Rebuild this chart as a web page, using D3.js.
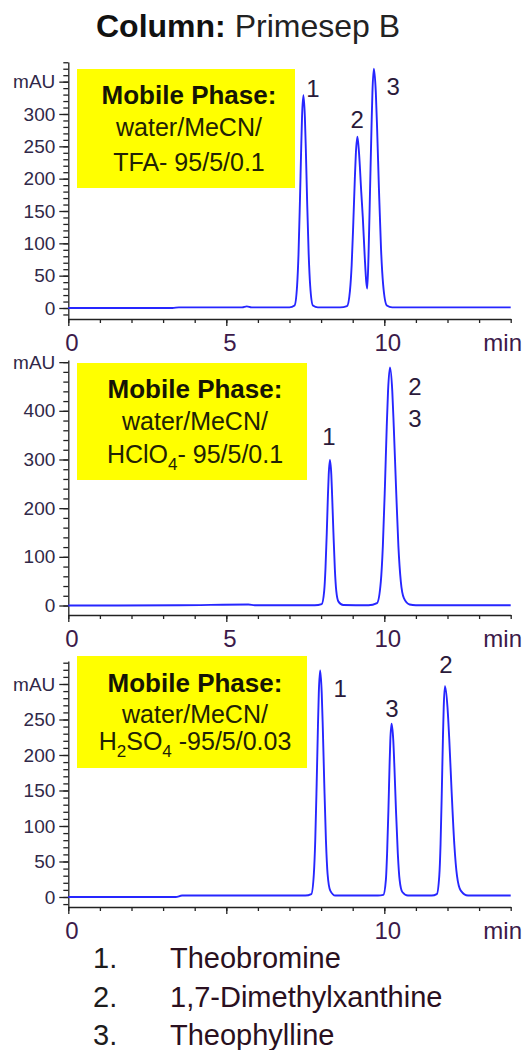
<!DOCTYPE html>
<meta charset="utf-8">
<style>
  body { margin: 0; background: #fff; }
  text { font-family: "Liberation Sans", Arial, sans-serif; }
</style>
<svg id="mainsvg" width="523" height="1050"></svg>
<script src="https://d3js.org/d3.v7.min.js"></script>
<script>

// chromatogram traces, [time (min), signal (mAU)]
const traceTFA = [[0,0],[3.3,0],[3.5,1],[5.5,1],[5.65,2.5],[5.8,1],[7.0,1],[7.16,4],[7.24,34],[7.285,83],[7.33,165],[7.37,247],[7.397,296],[7.44,329],[7.486,296],[7.516,247],[7.558,165],[7.607,83],[7.655,34],[7.74,4],[7.9,1],[8.6,1],[8.82,3],[8.914,27],[8.967,66],[9.02,133],[9.067,199],[9.1,239],[9.15,265],[9.2,240],[9.27,180],[9.32,140],[9.38,80],[9.43,40],[9.46,30],[9.5,80],[9.55,185],[9.594,277],[9.624,333],[9.67,370],[9.732,333],[9.773,277],[9.83,185],[9.896,92],[9.962,37],[10.08,4],[10.25,1],[14,1]];
const traceHClO4 = [[0,0],[3.5,0.5],[5.7,2],[5.9,0.5],[7.8,0.5],[8.02,3],[8.098,30],[8.138,75],[8.18,150],[8.215,224],[8.241,269],[8.28,299],[8.323,269],[8.35,224],[8.39,150],[8.435,75],[8.48,30],[8.55,8],[8.7,1],[9.5,0.5],[9.77,5],[9.89,49],[9.954,122],[10.02,245],[10.077,367],[10.118,440],[10.18,489],[10.253,440],[10.3,367],[10.37,245],[10.446,122],[10.523,49],[10.62,15],[10.8,2],[11.0,0.5],[14,0.5]];
const traceH2SO4 = [[0,0],[3.4,0],[3.6,2],[4.5,2],[7.5,2],[7.69,4],[7.77,32],[7.815,80],[7.86,160],[7.9,240],[7.927,287],[7.97,319],[8.02,287],[8.053,240],[8.1,160],[8.153,80],[8.206,32],[8.29,9],[8.45,2],[9.8,2],[9.97,3],[10.05,24],[10.088,61],[10.13,122],[10.165,183],[10.19,220],[10.23,244],[10.285,220],[10.32,183],[10.37,122],[10.428,61],[10.485,24],[10.57,7],[10.75,2],[11.5,2],[11.66,4],[11.74,30],[11.78,74],[11.82,149],[11.855,223],[11.88,267],[11.92,297],[12.0,267],[12.055,223],[12.13,149],[12.216,74],[12.3,30],[12.42,9],[12.65,2],[14,2]];

// peak numbers: [label, time, mAU]
const peaksTFA = [["1",7.74,340],["2",9.14,291],["3",10.28,342]];
const peaksHClO4 = [["1",8.25,346],["2",10.97,449],["3",10.97,385]];
const peaksH2SO4 = [["1",8.6,293],["3",10.24,266],["2",11.95,327]];

// mobile phase text, subscripts flagged
const phaseTFA = [[{t:"water/MeCN/"}], [{t:"TFA- 95/5/0.1"}]];
const phaseHClO4 = [[{t:"water/MeCN/"}], [{t:"HClO"},{t:"4",sub:1},{t:"- 95/5/0.1"}]];
const phaseH2SO4 = [[{t:"water/MeCN/"}], [{t:"H"},{t:"2",sub:1},{t:"SO"},{t:"4",sub:1},{t:" -95/5/0.03"}]];

const compounds = ["Theobromine", "1,7-Dimethylxanthine", "Theophylline"];

// layout of the three stacked plots
const layout = [
  {trace: traceTFA, peaks: peaksTFA, phase: phaseTFA, top: 62, bottom: 319, yDomain: [-17, 380.4],
   majors: d3.range(0, 351, 50), minors: d3.range(-10, 381, 10), xLabels: [0, 5, 10],
   box: [77, 69, 295, 188], lines: [104, 136, 171]},
  {trace: traceHClO4, peaks: peaksHClO4, phase: phaseHClO4, top: 360, bottom: 615, yDomain: [-19.5, 504.4],
   majors: d3.range(0, 501, 100), minors: d3.range(0, 501, 20), xLabels: [0, 5, 10],
   box: [77, 363, 307, 480], lines: [398, 430, 463]},
  {trace: traceH2SO4, peaks: peaksH2SO4, phase: phaseH2SO4, top: 661, bottom: 907, yDomain: [-14.1, 332.4],
   majors: d3.range(0, 301, 50), minors: d3.range(-10, 331, 10), xLabels: [0, 10],
   box: [77, 656, 307, 768], lines: [692, 723, 750]}
];

const svg = d3.select("#mainsvg");
const x = d3.scaleLinear().domain([0, 14]).range([68.3, 510.7]);

// title
const title = svg.append("text")
  .attr("x", 248).attr("y", 37)
  .attr("text-anchor", "middle")
  .style("font-size", "32px")
  .attr("fill", "#111");
title.append("tspan").style("font-weight", "bold").text("Column:");
title.append("tspan").attr("fill", "#222").text(" Primesep B");

layout.forEach(function(p) {
  const y = d3.scaleLinear().domain(p.yDomain).range([p.bottom, p.top]);
  const g = svg.append("g");

  // mobile phase box
  const bx = p.box;
  g.append("rect")
    .attr("x", bx[0]).attr("y", bx[1])
    .attr("width", bx[2] - bx[0]).attr("height", bx[3] - bx[1])
    .attr("fill", "#ffff00");
  const cx = (bx[0] + bx[2]) / 2 + 3;
  g.append("text")
    .attr("x", cx).attr("y", p.lines[0])
    .attr("text-anchor", "middle")
    .style("font-size", "26px").style("font-weight", "bold")
    .attr("fill", "#151505")
    .text("Mobile Phase:");
  p.phase.forEach(function(segs, i) {
    const t = g.append("text")
      .attr("x", cx).attr("y", p.lines[i + 1])
      .attr("text-anchor", "middle")
      .style("font-size", "25px")
      .attr("fill", "#222205");
    let low = false;
    segs.forEach(function(s) {
      const ts = t.append("tspan").text(s.t);
      if (s.sub) {
        ts.style("font-size", "17px").attr("dy", low ? 0 : 7);
        low = true;
      } else if (low) {
        ts.attr("dy", -7);
        low = false;
      }
    });
  });

  // y axis: minor then major ticks
  g.append("g")
    .attr("transform", "translate(" + x(0) + ",0)")
    .call(d3.axisLeft(y).tickValues(p.minors).tickSize(5).tickSizeOuter(0).tickFormat(""))
    .call(a => a.selectAll("line,path").attr("stroke", "#222").attr("stroke-width", 1.3));
  const topMajor = p.majors[p.majors.length - 1];
  g.append("g")
    .attr("transform", "translate(" + x(0) + ",0)")
    .call(d3.axisLeft(y).tickValues(p.majors).tickSize(9).tickPadding(4).tickSizeOuter(0)
      .tickFormat(d => d === topMajor ? "mAU" : d))
    .call(a => a.select(".domain").remove())
    .call(a => a.selectAll("line").attr("stroke", "#222").attr("stroke-width", 1.3))
    .call(a => a.selectAll("text").style("font-size", "19px").style("font-family", null).attr("fill", "#302848"));

  // x axis
  const xg = g.append("g").attr("transform", "translate(0," + p.bottom + ")");
  xg.call(d3.axisBottom(x).tickValues(d3.range(0, 15, 1)).tickSize(4).tickSizeOuter(0).tickFormat(""))
    .call(a => a.selectAll("line,path").attr("stroke", "#222").attr("stroke-width", 1.3));
  xg.append("g")
    .call(d3.axisBottom(x).tickValues([0, 5, 10]).tickSize(7).tickPadding(8).tickSizeOuter(0)
      .tickFormat(d => p.xLabels.includes(d) ? d : ""))
    .call(a => a.select(".domain").remove())
    .call(a => a.selectAll("line").attr("stroke", "#222").attr("stroke-width", 1.3))
    .call(a => a.selectAll("text").attr("dx", 3).style("font-size", "24px").style("font-family", null).attr("fill", "#3c1a4a"));
  xg.append("text")
    .attr("x", 522).attr("y", 15).attr("dy", "0.71em")
    .attr("text-anchor", "end")
    .style("font-size", "24px")
    .attr("fill", "#3c1a4a")
    .text("min");

  // trace
  const line = d3.line()
    .x(d => x(d[0]))
    .y(d => y(d[1]))
    .curve(d3.curveMonotoneX);
  g.append("path")
    .datum(p.trace)
    .attr("fill", "none")
    .attr("stroke", "#2626ff")
    .attr("stroke-width", 1.9)
    .attr("stroke-linejoin", "round")
    .attr("d", line);

  // peak numbers
  g.selectAll(".peak")
    .data(p.peaks)
    .enter().append("text")
    .attr("class", "peak")
    .attr("x", d => x(d[1]))
    .attr("y", d => y(d[2]))
    .attr("dy", "0.35em")
    .attr("text-anchor", "middle")
    .style("font-size", "24px")
    .attr("fill", "#2a1a3a")
    .text(d => d[0]);
});

// compound list
const legend = svg.append("g");
compounds.forEach(function(name, i) {
  const yy = 968 + i * 38.5;
  legend.append("text")
    .attr("x", 93).attr("y", yy)
    .style("font-size", "29px")
    .attr("fill", "#1c1c1c")
    .text((i + 1) + ".");
  legend.append("text")
    .attr("x", 170).attr("y", yy)
    .style("font-size", "29px")
    .attr("fill", "#2a1020")
    .text(name);
});

</script>
